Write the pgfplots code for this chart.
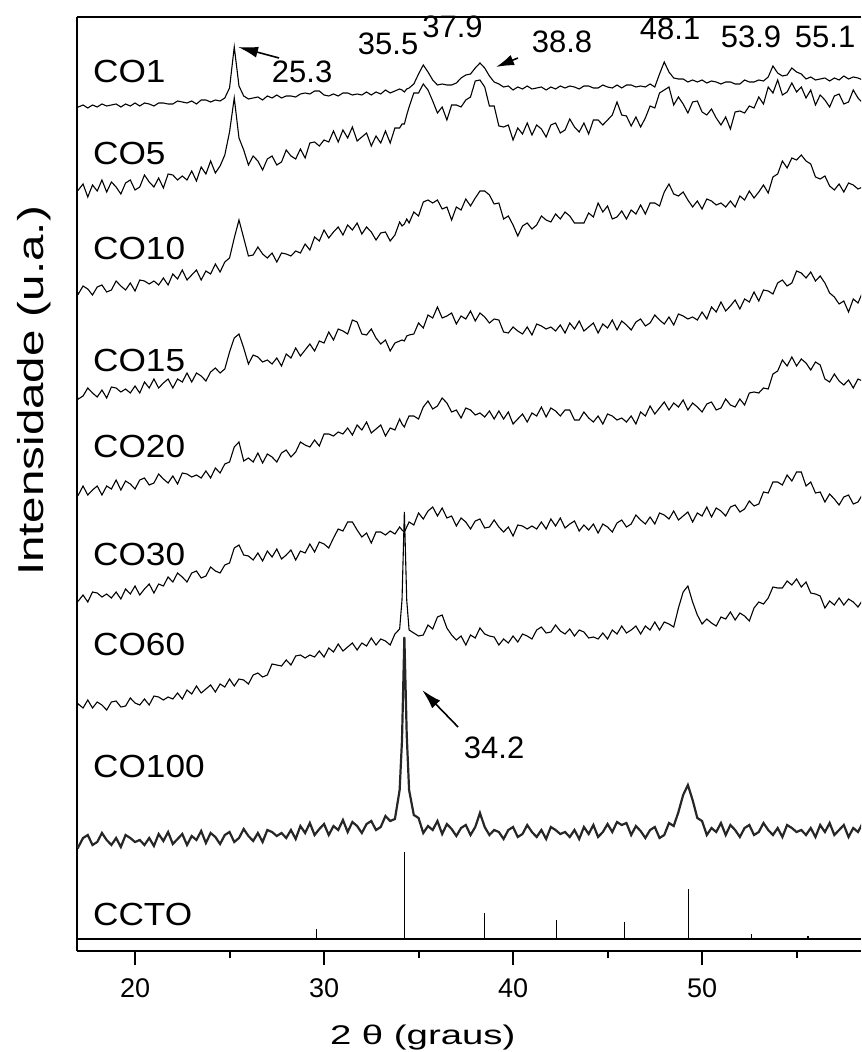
\documentclass[border=0pt]{standalone}
\usepackage{pgfplots}
\pgfplotsset{compat=1.18}
\usepackage{pgfplotstable}
\usepackage{graphicx}
\usepackage{fontspec}
\setmainfont{Liberation Sans}
\usetikzlibrary{arrows.meta}
\newcommand{\lab}{\fontsize{16}{16}\selectfont}
\newcommand{\ann}{\fontsize{15.5}{15.5}\selectfont}

% y values are vertical positions (larger = lower on the page)
\pgfplotstableread{
x co1 co5 co10 co15 co20 co30 co60 co100
16.75 106 195 284 391 491 598 712 840
17.00 107 190 294 399 495 601 704 847
17.25 105 184 286 396 486 595 708 838
17.50 108 197 289 388 495 602 700 835
17.75 105 185 295 393 490 592 708 845
18.00 107 191 287 397 486 593 702 842
18.25 104 180 285 390 495 597 705 833
18.50 106 192 292 398 486 594 710 840
18.75 105 182 290 387 489 598 702 845
19.00 104 187 281 388 480 592 701 838
19.25 107 194 286 392 490 599 707 847
19.50 104 183 290 389 481 589 706 835
19.75 106 180 283 393 484 594 698 838
20.00 103 190 291 386 489 586 703 842
20.25 106 187 280 393 480 595 705 840
20.50 103 175 281 382 478 589 699 845
20.75 104 182 284 388 485 584 705 838
21.00 106 187 281 379 483 593 696 846
21.25 103 178 285 388 474 584 697 834
21.50 103 188 278 383 479 586 700 841
21.75 104 174 285 379 483 577 697 832
22.00 104 175 274 388 476 582 699 844
22.25 101 180 279 379 484 573 693 839
22.50 102 176 270 382 473 577 699 834
22.75 103 180 280 373 474 582 690 845
23.00 101 171 275 382 477 573 694 836
23.25 104 181 270 373 475 571 686 840
23.50 100 167 280 376 478 578 693 831
23.75 100 174 271 381 471 576 689 843
24.00 102 161 274 372 478 567 685 833
24.25 100 173 264 368 468 571 692 837
24.50 101 166 272 373 473 573 684 844
24.75 98 155 262 369 464 565 687 835
25.00 88 132 258 352 462 563 679 832
25.25 47 98 238 338 447 548 686 842
25.50 86 138 220 334 442 545 679 838
25.75 96 150 238 348 461 555 680 829
26.00 99 165 256 364 458 556 684 836
26.25 98 156 255 355 462 560 675 841
26.50 97 161 247 357 453 553 673 833
26.75 100 170 254 362 463 561 677 842
27.00 96 159 258 360 454 551 675 830
27.25 98 156 253 364 457 557 664 832
27.50 95 165 262 358 462 549 665 836
27.75 98 162 253 366 453 559 666 833
28.00 96 150 254 354 450 555 660 838
28.25 96 156 256 358 457 550 665 830
28.50 97 159 251 348 452 560 656 839
28.75 94 149 253 356 442 551 655 826
29.00 93 158 244 350 445 553 658 833
29.25 94 143 250 344 447 544 655 823
29.50 91 142 237 351 440 552 657 835
29.75 91 146 241 341 446 542 651 829
30.00 95 140 230 343 434 544 657 824
30.25 96 142 238 332 434 548 648 835
30.50 94 131 232 340 436 538 652 826
30.75 96 142 227 329 432 529 644 830
31.00 93 130 235 331 434 531 651 820
31.25 93 138 225 334 428 522 647 832
31.50 95 127 230 320 435 522 643 822
31.75 94 141 223 322 425 530 650 826
32.00 95 137 234 334 430 537 643 833
32.25 92 133 227 335 422 533 646 824
32.50 95 146 232 329 433 543 638 821
32.75 92 136 240 338 429 532 645 830
33.00 94 143 233 344 425 532 639 827
33.25 90 131 232 340 436 535 641 816
33.50 93 143 241 351 428 531 645 821
33.75 91 128 235 343 430 534 634 819
34.00 89 128 222 341 419 527 629 790
34.125 90 124 226 340 424 530 600 740
34.25 92 124 224 341 427 532 512 637
34.375 89 115 219 336 421 527 600 735
34.50 88 107 223 335 416 522 630 790
34.75 84 93 212 334 416 525 633 815
35.00 74 93 216 323 419 513 636 818
35.25 65 84 202 328 407 519 635 833
35.50 72 90 200 315 401 511 625 826
35.75 80 101 203 318 409 507 629 830
36.00 85 113 200 307 406 516 617 821
36.25 84 107 209 318 398 508 615 834
36.50 85 120 207 316 403 518 628 824
36.75 85 105 220 313 412 516 635 829
37.00 83 105 207 324 410 526 640 836
37.25 78 107 210 316 418 518 636 828
37.50 75 100 199 319 408 522 645 825
37.75 74 97 206 311 410 529 635 835
38.00 68 81 198 321 415 521 638 827
38.25 63 80 191 313 413 519 628 813
38.50 68 87 191 317 417 528 634 827
38.75 76 106 195 323 411 527 636 835
39.00 82 106 204 319 419 520 637 830
39.25 84 126 203 320 411 527 645 832
39.50 87 127 219 332 419 532 639 839
39.75 86 125 216 333 412 527 643 830
40.00 90 140 225 327 424 536 636 827
40.25 87 128 236 331 419 525 642 837
40.50 89 134 226 334 414 526 634 834
40.75 86 123 223 327 422 529 636 825
41.00 89 135 229 335 413 526 639 832
41.25 88 125 225 324 416 529 630 837
41.50 87 129 216 326 407 522 627 830
41.75 90 137 220 329 417 529 633 839
42.00 87 125 222 327 408 519 632 827
42.25 89 123 214 331 411 526 625 830
42.50 86 133 219 325 416 518 631 834
42.75 88 130 212 333 410 528 634 832
43.00 86 119 216 323 410 524 629 837
43.25 87 127 223 329 420 521 636 830
43.50 89 132 223 321 420 531 630 839
43.75 86 123 223 331 412 525 632 827
44.00 86 134 213 327 418 530 638 834
44.25 88 120 217 323 422 524 637 825
44.50 88 120 203 333 416 533 639 837
44.75 85 125 212 324 424 524 633 832
45.00 87 120 206 328 414 527 639 824
45.25 88 115 219 320 416 532 630 832
45.50 85 102 217 330 420 523 634 822
45.75 88 115 211 321 418 520 626 825
46.00 85 116 219 325 422 527 633 823
46.25 85 126 210 330 416 524 630 835
46.50 87 117 214 322 424 515 626 826
46.75 86 127 205 319 412 520 634 831
47.00 87 118 214 326 416 524 626 838
47.25 84 106 203 323 406 517 630 830
47.50 87 108 203 315 414 524 622 827
47.75 74 93 206 320 408 513 630 838
48.00 62 90 192 324 402 515 622 835
48.25 72 87 184 317 410 519 624 823
48.50 78 105 194 325 403 511 627 826
48.75 79 97 196 314 407 520 608 812
49.00 79 104 192 316 400 516 592 795
49.25 82 113 200 319 410 512 586 785
49.50 80 102 207 317 403 522 602 800
49.75 82 101 201 320 407 513 615 818
50.00 80 112 209 312 412 516 624 821
50.25 83 115 199 319 404 507 619 835
50.50 81 109 201 307 402 517 623 828
50.75 82 118 205 312 410 508 626 832
51.00 84 125 203 302 408 511 617 823
51.25 82 117 207 311 399 516 619 835
51.50 82 129 201 306 405 507 612 825
51.75 84 112 207 300 407 505 620 830
52.00 84 111 196 309 399 512 613 837
52.25 80 113 200 299 405 509 616 828
52.50 82 106 191 302 393 501 621 825
52.75 82 108 198 292 392 506 608 835
53.00 80 97 192 301 393 504 602 832
53.25 81 104 185 290 388 492 604 823
53.50 77 87 193 291 389 493 598 830
53.75 66 93 177 294 374 482 587 835
54.00 73 80 174 283 371 482 588 828
54.25 76 95 161 280 360 485 588 837
54.50 75 92 168 286 366 475 581 825
54.75 68 83 158 283 357 481 585 828
55.00 72 92 160 271 366 472 579 832
55.25 74 87 155 273 359 472 587 830
55.50 79 98 161 278 363 486 582 835
55.75 77 90 164 272 370 482 593 828
56.00 80 105 177 281 362 493 594 837
56.25 79 95 179 276 365 492 596 825
56.50 78 100 176 283 379 502 608 832
56.75 81 107 186 293 382 494 601 823
57.00 78 96 190 297 374 499 605 835
57.25 80 94 184 304 381 505 598 830
57.50 76 104 192 301 385 497 605 825
57.75 79 102 183 312 380 495 599 837
58.00 77 90 185 299 388 504 602 828
58.25 78 98 189 303 379 502 607 832
58.50 80 103 187 292 381 494 600 823
}\xrd

\begin{document}
\begin{tikzpicture}
\begin{axis}[
  scale only axis, width=392pt, height=467pt,
  xmin=16.93, xmax=58.41, ymin=17, ymax=951, y dir=reverse,
  axis x line=box, axis y line=left,
  axis line style={-, line width=1.1pt, black},
  xtick={20,30,40,50}, minor xtick={25,35,45,55},
  ytick=\empty, xtick pos=bottom,
  tick align=outside, major tick length=7pt, minor tick length=3.5pt,
  every tick/.style={black, line width=1pt},
  /pgf/number format/assume math mode=true,
  xticklabel style={font=\fontsize{13.5}{14}\selectfont, yshift=-3.5pt},
  xlabel={\scalebox{1.42}[1]{2 θ (graus)}},
  xlabel style={at={(axis description cs:0.441,-0.0921)}, anchor=center, font=\fontsize{13.5}{14}\selectfont},
  ylabel={\scalebox{1.32}[1]{Intensidade (u.a.)}},
  ylabel style={at={(axis description cs:-0.0548,0.5996)}, anchor=center, font=\fontsize{18}{18}\selectfont},
  clip mode=individual,
]
\addplot[black, line width=0.55pt] table[x=x,y=co1]{\xrd};
\addplot[black, line width=0.55pt] table[x=x,y=co5]{\xrd};
\addplot[black, line width=0.55pt] table[x=x,y=co10]{\xrd};
\addplot[black, line width=0.55pt] table[x=x,y=co15]{\xrd};
\addplot[black, line width=0.55pt] table[x=x,y=co20]{\xrd};
\addplot[black, line width=0.55pt] table[x=x,y=co30]{\xrd};
\addplot[black, line width=0.55pt] table[x=x,y=co60]{\xrd};
\addplot[black!85, line width=1.1pt] table[x=x,y=co100]{\xrd};
% CCTO reference pattern
\addplot[black, line width=0.7pt] coordinates {(16.93,939) (58.41,939)};
\addplot[black, line width=0.6pt] coordinates {(29.6,939) (29.6,929)};
\addplot[black, line width=0.6pt] coordinates {(34.25,939) (34.25,852)};
\addplot[black, line width=0.6pt] coordinates {(38.5,939) (38.5,913)};
\addplot[black, line width=0.6pt] coordinates {(42.3,939) (42.3,920)};
\addplot[black, line width=0.6pt] coordinates {(45.9,939) (45.9,922)};
\addplot[black, line width=0.6pt] coordinates {(49.3,939) (49.3,889)};
\addplot[black, line width=0.6pt] coordinates {(52.6,939) (52.6,934)};
\addplot[black, line width=0.6pt] coordinates {(55.6,939) (55.6,936)};
% sample labels
\node[anchor=base west, font=\lab] at (axis cs:17.41,83) {\scalebox{1.1}[1]{CO1}};
\node[anchor=base west, font=\lab] at (axis cs:17.41,165) {\scalebox{1.1}[1]{CO5}};
\node[anchor=base west, font=\lab] at (axis cs:17.41,260) {\scalebox{1.1}[1]{CO10}};
\node[anchor=base west, font=\lab] at (axis cs:17.41,372) {\scalebox{1.1}[1]{CO15}};
\node[anchor=base west, font=\lab] at (axis cs:17.41,457) {\scalebox{1.1}[1]{CO20}};
\node[anchor=base west, font=\lab] at (axis cs:17.41,565) {\scalebox{1.1}[1]{CO30}};
\node[anchor=base west, font=\lab] at (axis cs:17.41,655) {\scalebox{1.1}[1]{CO60}};
\node[anchor=base west, font=\lab] at (axis cs:17.41,777) {\scalebox{1.1}[1]{CO100}};
\node[anchor=base west, font=\lab] at (axis cs:17.41,925) {\scalebox{1.1}[1]{CCTO}};
% peak annotations
\node[anchor=base, font=\ann, inner sep=0pt] at (axis cs:28.84,83) {25.3};
\node[anchor=base, font=\ann, inner sep=0pt] at (axis cs:33.39,55) {35.5};
\node[anchor=base, font=\ann, inner sep=0pt] at (axis cs:36.80,38) {37.9};
\node[anchor=base, font=\ann, inner sep=0pt] at (axis cs:42.59,53) {38.8};
\node[anchor=base, font=\ann, inner sep=0pt] at (axis cs:48.31,40) {48.1};
\node[anchor=base, font=\ann, inner sep=0pt] at (axis cs:52.59,48) {53.9};
\node[anchor=base, font=\ann, inner sep=0pt] at (axis cs:56.51,48) {55.1};
\node[anchor=base, font=\ann, inner sep=0pt] at (axis cs:39.0,758) {34.2};
\draw[-{Latex[length=10pt,width=5.5pt]}, line width=0.8pt] (axis cs:27.62,58) -- (axis cs:25.45,47);
\draw[-{Latex[length=9pt,width=5.5pt]}, line width=0.8pt] (axis cs:40.26,58) -- (axis cs:39.10,67);
\draw[-{Latex[length=10pt,width=5.5pt]}, line width=0.8pt] (axis cs:37.09,727) -- (axis cs:35.19,690);
\coordinate (bl) at (axis description cs:0,0);
\coordinate (tr) at (axis description cs:1,1);
\end{axis}
\pgfresetboundingbox
\path ([shift={(-38.5pt,-50.5pt)}]bl) rectangle ([shift={(0pt,8.5pt)}]tr);
\end{tikzpicture}
\end{document}
